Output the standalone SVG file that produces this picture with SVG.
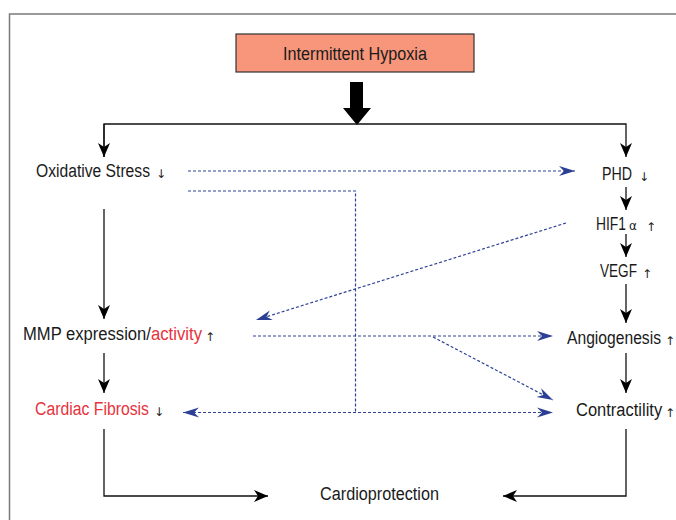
<svg xmlns="http://www.w3.org/2000/svg" width="676" height="520" viewBox="0 0 676 520">
<style>
.t{font-family:"Liberation Sans",Arial,sans-serif;font-size:18px;fill:#1a1a1a}
.red{fill:#E8323C}
.s{font-family:"DejaVu Sans","Liberation Sans",sans-serif;font-size:12px;fill:#222}
.k{fill:none;stroke:#111;stroke-width:1.3}
.b{fill:none;stroke:#2E4396;stroke-width:1.2;stroke-dasharray:3 2}
</style>
<defs>
<marker id="ak" markerUnits="userSpaceOnUse" markerWidth="16" markerHeight="12" refX="14" refY="6" orient="auto">
<path d="M0,0 L14,6 L0,12 L4,6 Z" fill="#000"/>
</marker>
<marker id="ab" markerUnits="userSpaceOnUse" markerWidth="18" markerHeight="12" refX="16" refY="6" orient="auto-start-reverse">
<path d="M0,1 L16,6 L0,11 L5,6 Z" fill="#2B3F94"/>
</marker>
</defs>
<rect x="9.5" y="14" width="700" height="600" fill="#fff" stroke="#7a7a7a" stroke-width="1.5"/>

<g id="connectors">
<polygon points="350,82 363,82 363,108 371,108 357,125 343,108 350,108" fill="#000"/>
<polyline class="k" points="104,157 104,124 626,124 626,157" marker-end="url(#ak)"/>
<line class="k" x1="104" y1="124" x2="104" y2="157" marker-end="url(#ak)"/>
<line class="k" x1="626" y1="187" x2="626" y2="210" marker-end="url(#ak)"/>
<line class="k" x1="626" y1="234" x2="626" y2="257" marker-end="url(#ak)"/>
<line class="k" x1="626" y1="284" x2="626" y2="323" marker-end="url(#ak)"/>
<line class="k" x1="626" y1="353" x2="626" y2="393" marker-end="url(#ak)"/>
<polyline class="k" points="626,429 626,496 503,496" marker-end="url(#ak)"/>
<line class="k" x1="104" y1="209" x2="104" y2="319" marker-end="url(#ak)"/>
<line class="k" x1="104" y1="353" x2="104" y2="393" marker-end="url(#ak)"/>
<polyline class="k" points="104,429 104,496 268,496" marker-end="url(#ak)"/>

<line class="b" x1="188" y1="171" x2="575" y2="171" marker-end="url(#ab)"/>
<polyline class="b" points="188,191 355.5,191 355.5,412"/>
<line class="b" x1="566" y1="223" x2="256" y2="320" marker-end="url(#ab)"/>
<line class="b" x1="253" y1="336" x2="553" y2="336" marker-end="url(#ab)"/>
<line class="b" x1="433" y1="337" x2="553" y2="400" marker-end="url(#ab)"/>
<line class="b" x1="183" y1="412.5" x2="553" y2="412.5" marker-start="url(#ab)" marker-end="url(#ab)"/>
</g>

<g id="hypoxia">
<rect x="236" y="34" width="238" height="38" fill="#F7967A" stroke="#333" stroke-width="1.2"/>
<text class="t" transform="translate(283,60) scale(0.87,1)" font-size="17" textLength="165.5" lengthAdjust="spacingAndGlyphs">Intermittent Hypoxia</text>
</g>
<g id="oxidative">
<text class="t" transform="translate(36,177) scale(0.87,1)" textLength="131" lengthAdjust="spacingAndGlyphs">Oxidative Stress</text>
<text class="s" x="156" y="178">↓</text>
</g>
<g id="phd">
<text class="t" transform="translate(602,180) scale(0.87,1)" textLength="34.5" lengthAdjust="spacingAndGlyphs">PHD</text>
<text class="s" x="639" y="181">↓</text>
</g>
<g id="hif">
<text class="t" transform="translate(596,230) scale(0.87,1)" textLength="34.5" lengthAdjust="spacingAndGlyphs">HIF1</text>
<text class="s" x="629" y="230">α</text>
<text class="s" x="646" y="231">↑</text>
</g>
<g id="vegf">
<text class="t" transform="translate(600,277) scale(0.87,1)" textLength="42.5" lengthAdjust="spacingAndGlyphs">VEGF</text>
<text class="s" x="642" y="278">↑</text>
</g>
<g id="angio">
<text class="t" transform="translate(567,344) scale(0.87,1)" textLength="108" lengthAdjust="spacingAndGlyphs">Angiogenesis</text>
<text class="s" x="665" y="345">↑</text>
</g>
<g id="contract">
<text class="t" transform="translate(576,416) scale(0.87,1)" textLength="99" lengthAdjust="spacingAndGlyphs">Contractility</text>
<text class="s" x="665" y="417">↑</text>
</g>
<g id="mmp">
<text class="t" transform="translate(23,340) scale(0.87,1)" textLength="147" lengthAdjust="spacingAndGlyphs">MMP expression/</text>
<text class="t red" transform="translate(151,340) scale(0.87,1)" textLength="58.6" lengthAdjust="spacingAndGlyphs">activity</text>
<text class="s" x="205" y="341">↑</text>
</g>
<g id="fibrosis">
<text class="t red" transform="translate(35,415) scale(0.87,1)" textLength="131" lengthAdjust="spacingAndGlyphs">Cardiac Fibrosis</text>
<text class="s" x="154" y="416">↓</text>
</g>
<g id="cardioprotection">
<text class="t" transform="translate(320,500) scale(0.87,1)" textLength="136.8" lengthAdjust="spacingAndGlyphs">Cardioprotection</text>
</g>
</svg>
